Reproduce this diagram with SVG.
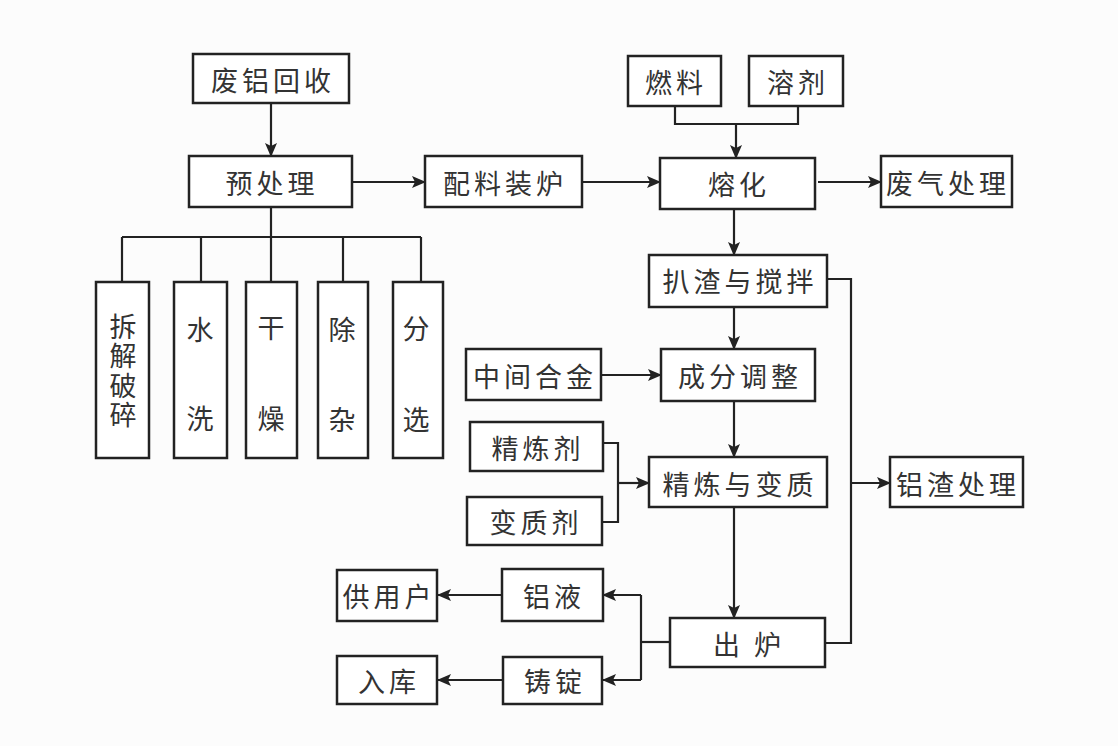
<svg xmlns="http://www.w3.org/2000/svg" width="1118" height="746" viewBox="0 0 1118 746">
<defs>
<marker id="ah" markerUnits="userSpaceOnUse" markerWidth="14" markerHeight="12" refX="13" refY="6" orient="auto">
<path d="M0,0 L14,6 L0,12 L3,6 Z" fill="#222"/>
</marker>
<style>
.box{fill:#fff;stroke:#222;stroke-width:2.5}
.t{font-family:"Noto Sans CJK SC","Noto Sans",sans-serif;font-size:27px;fill:#333;text-anchor:middle;dominant-baseline:central;letter-spacing:4px}
.v{letter-spacing:0}
.vt{writing-mode:vertical-rl;text-anchor:start;letter-spacing:2.5px}
.ln{fill:none;stroke:#222;stroke-width:2.2}
.ar{fill:none;stroke:#222;stroke-width:2.2;marker-end:url(#ah)}
</style>
</defs>
<rect width="1118" height="746" fill="#fcfcfc"/>
<g id="connectors">
<line class="ar" x1="271" y1="103" x2="271" y2="156"/>
<line class="ar" x1="352" y1="182" x2="425" y2="182"/>
<line class="ar" x1="582" y1="182" x2="660" y2="182"/>
<polyline class="ln" points="675,106 675,124 798,124 798,106"/>
<line class="ar" x1="736" y1="124" x2="736" y2="158"/>
<line class="ar" x1="818" y1="182" x2="881" y2="182"/>
<line class="ln" x1="271" y1="207" x2="271" y2="282"/>
<line class="ln" x1="122" y1="237" x2="421" y2="237"/>
<line class="ln" x1="122" y1="237" x2="122" y2="282"/>
<line class="ln" x1="201" y1="237" x2="201" y2="282"/>
<line class="ln" x1="343" y1="237" x2="343" y2="282"/>
<line class="ln" x1="421" y1="237" x2="421" y2="282"/>
<line class="ar" x1="734" y1="209" x2="734" y2="255"/>
<line class="ar" x1="734" y1="307" x2="734" y2="349"/>
<line class="ar" x1="601" y1="375" x2="661" y2="375"/>
<line class="ar" x1="734" y1="401" x2="734" y2="457"/>
<polyline class="ln" points="603,443 618,443 618,522 602,522"/>
<line class="ar" x1="618" y1="483" x2="649" y2="483"/>
<line class="ar" x1="734" y1="507" x2="734" y2="618"/>
<polyline class="ln" points="827,279 851,279 851,643 825,643"/>
<line class="ar" x1="851" y1="483" x2="890" y2="483"/>
<line class="ln" x1="670" y1="642" x2="641" y2="642"/>
<line class="ln" x1="641" y1="595" x2="641" y2="680"/>
<line class="ar" x1="641" y1="595" x2="603" y2="595"/>
<line class="ar" x1="641" y1="680" x2="603" y2="680"/>
<line class="ar" x1="502" y1="595" x2="438" y2="595"/>
<line class="ar" x1="503" y1="680" x2="438" y2="680"/>
</g>
<g id="n-feilv"><rect class="box" x="193" y="54" width="156" height="49"/><text class="t" x="273" y="79">废铝回收</text></g>
<g id="n-yuchuli"><rect class="box" x="189" y="156" width="163" height="51"/><text class="t" x="272" y="182">预处理</text></g>
<g id="n-peiliao"><rect class="box" x="425" y="156" width="157" height="51"/><text class="t" x="505" y="182">配料装炉</text></g>
<g id="n-ranliao"><rect class="box" x="628" y="56" width="93" height="50"/><text class="t" x="676" y="81">燃料</text></g>
<g id="n-rongji"><rect class="box" x="749" y="56" width="94" height="50"/><text class="t" x="798" y="81">溶剂</text></g>
<g id="n-ronghua"><rect class="box" x="660" y="158" width="155" height="51"/><text class="t" x="739" y="183">熔化</text></g>
<g id="n-feiqi"><rect class="box" x="881" y="156" width="131" height="51"/><text class="t" x="948" y="182">废气处理</text></g>
<g id="n-chaijie"><rect class="box" x="96" y="282" width="53" height="176"/>
<text class="t vt" x="123" y="313">拆解破碎</text></g>
<g id="n-shuixi"><rect class="box" x="174" y="282" width="53" height="176"/>
<text class="t v" x="200" y="328">水</text><text class="t v" x="200" y="417">洗</text></g>
<g id="n-ganzao"><rect class="box" x="246" y="282" width="51" height="176"/>
<text class="t v" x="271" y="326">干</text><text class="t v" x="271" y="417">燥</text></g>
<g id="n-chuza"><rect class="box" x="318" y="282" width="50" height="176"/>
<text class="t v" x="342" y="328">除</text><text class="t v" x="342" y="418">杂</text></g>
<g id="n-fenxuan"><rect class="box" x="393" y="282" width="50" height="176"/>
<text class="t v" x="416" y="327">分</text><text class="t v" x="416" y="418">选</text></g>
<g id="n-pazha"><rect class="box" x="649" y="255" width="178" height="52"/><text class="t" x="740" y="280">扒渣与搅拌</text></g>
<g id="n-zhongjian"><rect class="box" x="466" y="349" width="135" height="51"/><text class="t" x="535" y="375">中间合金</text></g>
<g id="n-chengfen"><rect class="box" x="661" y="349" width="154" height="52"/><text class="t" x="740" y="375">成分调整</text></g>
<g id="n-jinglianji"><rect class="box" x="470" y="422" width="133" height="49"/><text class="t" x="538" y="447">精炼剂</text></g>
<g id="n-bianzhiji"><rect class="box" x="467" y="497" width="135" height="48"/><text class="t" x="536" y="521">变质剂</text></g>
<g id="n-jinglian"><rect class="box" x="649" y="457" width="178" height="50"/><text class="t" x="740" y="483">精炼与变质</text></g>
<g id="n-lvzha"><rect class="box" x="890" y="457" width="133" height="50"/><text class="t" x="958" y="483">铝渣处理</text></g>
<g id="n-gongyonghu"><rect class="box" x="337" y="570" width="100" height="51"/><text class="t" x="389" y="595">供用户</text></g>
<g id="n-lvye"><rect class="box" x="502" y="569" width="101" height="52"/><text class="t" x="554" y="595">铝液</text></g>
<g id="n-ruku"><rect class="box" x="337" y="656" width="100" height="48"/><text class="t" x="389" y="680">入库</text></g>
<g id="n-zhuding"><rect class="box" x="503" y="657" width="99" height="47"/><text class="t" x="555" y="680">铸锭</text></g>
<g id="n-chulu"><rect class="box" x="670" y="618" width="155" height="49"/><text class="t" x="749" y="643">出 炉</text></g>
</svg>
